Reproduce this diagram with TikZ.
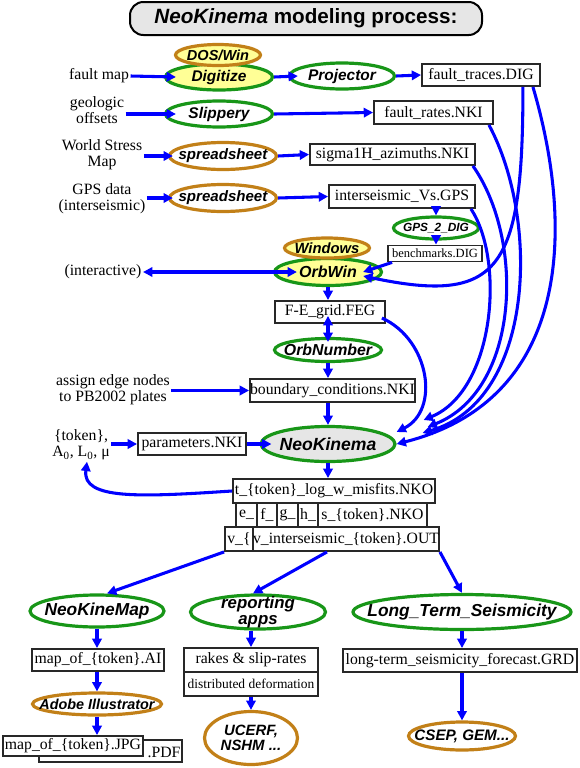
\documentclass[tikz,border=0pt]{standalone}
\usepackage{fontspec}
\setmainfont{Liberation Serif}
\newfontfamily\ssf{Liberation Sans}
\usetikzlibrary{shapes.geometric,arrows.meta}
\definecolor{lblue}{RGB}{0,0,255}
\definecolor{egreen}{RGB}{24,150,24}
\definecolor{ebrown}{RGB}{194,128,24}
\definecolor{eyellow}{RGB}{255,255,150}
\definecolor{egray}{RGB}{230,230,230}
\definecolor{bord}{RGB}{40,40,40}
\def\px{*0.75pt}
\tikzset{
 gE/.style={ellipse, draw=egreen, line width=2.4pt, fill=white, inner sep=0pt},
 bE/.style={ellipse, draw=ebrown, line width=2.4pt, fill=white, inner sep=0pt},
 etxt/.style={font=\ssf\bfseries\itshape\fontsize{#1}{#1}\selectfont, inner sep=0pt, align=center},
 etxt/.default=11.6,
 fbox/.style={rectangle, draw=bord, line width=1.4pt, fill=white, inner sep=0pt, font=\fontsize{11.8}{13}\selectfont},
 lbl/.style={font=\fontsize{11.8}{12}\selectfont, align=center, inner sep=1pt},
 arr/.style={draw=lblue, line width=2.3pt, -{Triangle[length=7pt,width=7pt]}},
 darr/.style={arr, {Triangle[length=7pt,width=7pt]}-{Triangle[length=7pt,width=7pt]}},
}
\begin{document}
\begin{tikzpicture}[x=0.75pt,y=-0.75pt]
\useasboundingbox (0,0) rectangle (580,768);

% title
\node[rectangle, rounded corners=10pt, draw=black, line width=1.5pt, fill=egray, minimum width=352\px, minimum height=33\px, font=\ssf\bfseries\fontsize{15.5}{16}\selectfont] (title) at (306,18.5) {\textit{NeoKinema} modeling process:};

% left labels
\node[lbl] (faultmap) at (99,76) {fault map};
\node[lbl] (geologic) at (97,110) {geologic\\offsets};
\node[lbl] (wsm) at (102,155) {World Stress\\Map};
\node[lbl] (gpsdata) at (102,199) {GPS data\\(interseismic)};
\node[lbl] (interactive) at (103,272) {(interactive)};
\node[lbl] (assign) at (113,390) {assign edge nodes\\to PB2002 plates};
\node[lbl] (token) at (81,445) {\{token\},\\A\textsubscript{0}, L\textsubscript{0}, μ};

% ellipses
\node[gE, fill=eyellow, minimum width=107\px, minimum height=26\px] (digitize) at (219,77) {};
\node[etxt] (digitizeT) at (digitize) {Digitize};
\node[bE, fill=eyellow, minimum width=85\px, minimum height=21\px] (doswin) at (218,55) {};
\node[etxt=10.9] (doswinT) at (doswin) {DOS/Win};
\node[gE, minimum width=105\px, minimum height=26\px] (projector) at (342,76) {};
\node[etxt] (projectorT) at (projector) {Projector};
\node[gE, minimum width=107\px, minimum height=26\px] (slippery) at (219,114) {};
\node[etxt] (slipperyT) at (slippery) {Slippery};
\node[bE, minimum width=107\px, minimum height=27\px] (ssa) at (223,156) {};
\node[etxt=11.3] (ssaT) at (ssa) {spreadsheet};
\node[bE, minimum width=107\px, minimum height=27\px] (ssb) at (223,198) {};
\node[etxt=11.3] (ssbT) at (ssb) {spreadsheet};
\node[gE, minimum width=85\px, minimum height=22\px] (gpsdig) at (436,228) {};
\node[etxt=8.9] (gpsdigT) at (gpsdig) {GPS\_2\_DIG};
\node[gE, fill=eyellow, minimum width=107\px, minimum height=27\px] (orbwin) at (328,272) {};
\node[etxt=12] (orbwinT) at (orbwin) {OrbWin};
\node[bE, fill=eyellow, minimum width=85\px, minimum height=20\px] (windows) at (327,248) {};
\node[etxt=11.1] (windowsT) at (windows) {Windows};
\node[gE, minimum width=107\px, minimum height=23\px] (orbnumber) at (328,350) {};
\node[etxt=11.9] (orbnumberT) at (orbnumber) {OrbNumber};
\node[gE, fill=egray, minimum width=134\px, minimum height=35\px] (neokinema) at (328,444) {};
\node[etxt=13.2] (neokinemaT) at (neokinema) {NeoKinema};
\node[gE, minimum width=134\px, minimum height=32\px] (neokinemap) at (97,611) {};
\node[etxt=13] (neokinemapT) at (neokinemap) {NeoKineMap};
\node[gE, minimum width=135\px, minimum height=34\px] (reporting) at (258,612) {};
\node[etxt, font=\ssf\bfseries\itshape\fontsize{12.6}{11.6}\selectfont] (reportingT) at (reporting) {reporting\\apps};
\node[gE, minimum width=218\px, minimum height=35\px] (longterm) at (462,612) {};
\node[etxt=13] (longtermT) at (longterm) {Long\_Term\_Seismicity};
\node[bE, minimum width=129\px, minimum height=22\px] (adobe) at (97,704) {};
\node[etxt=10.8] (adobeT) at (adobe) {Adobe Illustrator};
\node[bE, minimum width=93\px, minimum height=53\px] (ucerf) at (251,738) {};
\node[etxt, font=\ssf\bfseries\itshape\fontsize{11.2}{11.6}\selectfont] (ucerfT) at (ucerf) {UCERF,\\NSHM ...};
\node[bE, minimum width=107\px, minimum height=28\px] (csep) at (462,736) {};
\node[etxt=11.4] (csepT) at (csep) {CSEP, GEM...};

% boxes
\node[fbox, minimum width=118\px, minimum height=22\px] (faulttraces) at (481,75) {fault\_traces.DIG};
\node[fbox, minimum width=119\px, minimum height=23\px] (faultrates) at (433.5,112.5) {fault\_rates.NKI};
\node[fbox, minimum width=165\px, minimum height=21\px] (sigma) at (392.5,154.5) {sigma1H\_azimuths.NKI};
\node[fbox, minimum width=146\px, minimum height=23\px] (interseis) at (402,196.5) {interseismic\_Vs.GPS};
\node[fbox, minimum width=94\px, minimum height=16\px, font=\fontsize{9.4}{10}\selectfont] (benchmarks) at (435,253.5) {benchmarks.DIG};
\node[fbox, minimum width=110\px, minimum height=22\px] (feg) at (330,312) {F-E\_grid.FEG};
\node[fbox, minimum width=165\px, minimum height=23\px] (boundary) at (332.5,390.5) {boundary\_conditions.NKI};
\node[fbox, minimum width=108\px, minimum height=22\px] (params) at (192,444) {parameters.NKI};
\node[fbox, minimum width=202\px, minimum height=24\px] (tlog) at (334,491) {t\_\{token\}\_log\_w\_misfits.NKO};
\node[fbox, minimum width=21\px, minimum height=24\px] (ecell) at (246.5,515) {e\_};
\node[fbox, minimum width=20\px, minimum height=24\px] (fcell) at (267,515) {f\_};
\node[fbox, minimum width=21\px, minimum height=24\px] (gcell) at (287.5,515) {g\_};
\node[fbox, minimum width=20\px, minimum height=24\px] (hcell) at (308,515) {h\_};
\node[fbox, minimum width=109\px, minimum height=24\px] (scell) at (372.5,515) {s\_\{token\}.NKO};
\node[fbox, minimum width=28\px, minimum height=24\px] (vcell) at (239,539) {v\_\{};
\node[fbox, minimum width=186\px, minimum height=24\px] (vint) at (346,539) {v\_interseismic\_\{token\}.OUT};
\node[fbox, minimum width=132\px, minimum height=22\px] (mapai) at (98,660) {map\_of\_\{token\}.AI};
\node[fbox, minimum width=134\px, minimum height=24\px] (rakes) at (251,660) {rakes \& slip-rates};
\node[fbox, minimum width=134\px, minimum height=24\px, font=\fontsize{10.1}{11}\selectfont] (distrib) at (251,684) {distributed deformation};
\node[fbox, minimum width=234\px, minimum height=23\px] (ltsf) at (460,660.5) {long-term\_seismicity\_forecast.GRD};
\node[fbox, minimum width=143\px, minimum height=22\px] (pdf) at (110.5,751) {};
\node[lbl, inner sep=0pt] (pdfT) at (164,752) {.PDF};
\node[fbox, minimum width=140\px, minimum height=20\px] (jpg) at (73,746) {map\_of\_\{token\}.JPG};

% straight connectors
\draw[arr] (faultmap.east) -- ([xshift=12\px]digitize.west);
\draw[arr] (digitize.east) -- ([xshift=10\px]projector.west);
\draw[arr] (projector.east) -- (faulttraces.west);
\draw[arr] (geologic.east |- slippery.west) -- ([xshift=12\px]slippery.west);
\draw[arr] (slippery.east) -- (faultrates.west);
\draw[arr] (wsm.east |- ssa.west) -- ([xshift=5\px]ssa.west);
\draw[arr] (ssa.east) -- (sigma.west);
\draw[arr] (gpsdata.east |- ssb.west) -- ([xshift=5\px]ssb.west);
\draw[arr] (ssb.east) -- (interseis.west);
\draw[arr] (gpsdig.north |- interseis.south) -- (gpsdig.north);
\draw[arr] (gpsdig.south) -- (gpsdig.south |- benchmarks.north);
\draw[arr] ([xshift=5\px]benchmarks.south west) -- ([xshift=-20\px]orbwin.east);
\draw[darr] (interactive.east) -- ([xshift=24\px]orbwin.west);
\draw[arr] (orbwin.south) -- (orbwin.south |- feg.north);
\draw[darr] ([yshift=8\px]orbnumber.north |- feg.south) -- ([yshift=-5\px]orbnumber.north);
\draw[arr] (orbnumber.south) -- (orbnumber.south |- boundary.north);
\draw[arr] (assign.east |- boundary.west) -- (boundary.west);
\draw[arr] (neokinema.north |- boundary.south) -- (neokinema.north);
\draw[arr] (token.east |- params.west) -- (params.west);
\draw[arr] (params.east) -- ([xshift=12\px]neokinema.west);
\draw[arr] (neokinema.south) -- (neokinema.south |- tlog.north);
\draw[arr] (vcell.south west) -- ([xshift=10\px]neokinemap.north);
\draw[arr] ([xshift=-19\px]vint.south) -- ([xshift=-5\px]reporting.north);
\draw[arr] (vint.south east) -- (longterm.north);
\draw[arr] (neokinemap.south) -- (neokinemap.south |- mapai.north);
\draw[arr] (adobe.north |- mapai.south) -- (adobe.north);
\draw[arr] (adobe.south) -- (adobe.south |- jpg.north);
\draw[arr] (rakes.north |- reporting.south) -- (rakes.north);
\draw[arr] (distrib.south) -- (ucerf.north);
\draw[arr] (longterm.south) -- (longterm.south |- ltsf.north);
\draw[arr] (csep.north |- ltsf.south) -- (csep.north);

% curved connectors
\draw[arr] ([xshift=-18\px]faulttraces.south east) .. controls (523,270) and (500,305) .. ([shift={(-20,4)}]orbwin.east);
\draw[arr] ([xshift=-8\px]faulttraces.south east) .. controls (575,230) and (570,400) .. (neokinema.east);
\draw[arr] ([xshift=-5\px]faultrates.south east) .. controls (540,220) and (535,400) .. ([shift={(26,-11)}]neokinema.east);
\draw[arr] ([xshift=-3\px]sigma.south east) .. controls (525,240) and (520,390) .. ([shift={(31,-17)}]neokinema.east);
\draw[arr] ([xshift=-5\px]interseis.south east) .. controls (505,260) and (495,390) .. ([shift={(27,-24)}]neokinema.east);
\draw[arr] ([shift={(-4,6)}]feg.east) .. controls (430,340) and (440,410) .. ([shift={(0,-12)}]neokinema.east);
\draw[arr] (tlog.west) .. controls (140,497) and (82,500) .. ([xshift=6\px]token.south);
\end{tikzpicture}
\end{document}
